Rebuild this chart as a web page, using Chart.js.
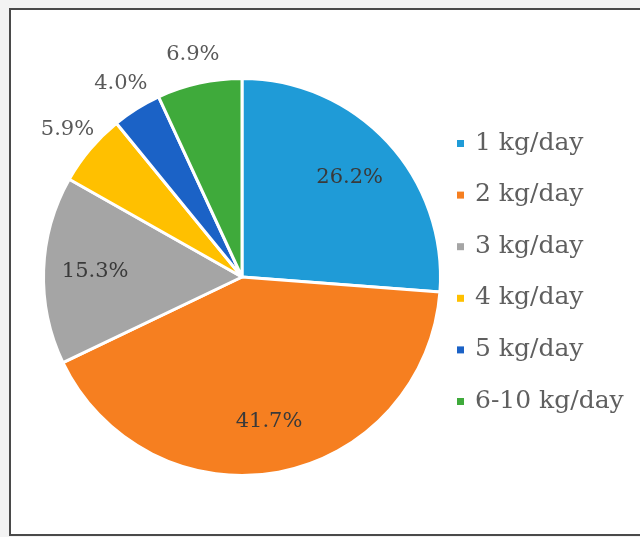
<!DOCTYPE html>
<html>
<head>
<meta charset="utf-8">
<script src="https://cdn.jsdelivr.net/npm/chart.js@4/dist/chart.umd.min.js"></script>
<style>
  html, body { margin: 0; padding: 0; background: #fff; }
  #wrap { width: 640px; height: 537px; }
</style>
</head>
<body>
<div id="wrap"><canvas id="chart" width="640" height="537"></canvas></div>
<script>
// share of households by amount per day
const categories = ['1 kg/day', '2 kg/day', '3 kg/day', '4 kg/day', '5 kg/day', '6-10 kg/day'];
const shares = [26.2, 41.7, 15.3, 5.9, 4.0, 6.9];
const colors = ['#1f9bd7', '#f67f20', '#a5a5a5', '#ffc000', '#1b62c6', '#3faa3b'];

const serif = '"DejaVu Serif", "Liberation Serif", serif';

// frame round the picture
const framePlugin = {
  id: 'frame',
  beforeDraw(chart) {
    const ctx = chart.ctx;
    ctx.save();
    ctx.fillStyle = '#f3f3f3';
    ctx.fillRect(0, 0, chart.width, chart.height);
    ctx.fillStyle = '#ffffff';
    ctx.fillRect(10, 9, chart.width - 10, 526);
    ctx.strokeStyle = '#4a4a4a';
    ctx.lineWidth = 2;
    ctx.strokeRect(10, 9, chart.width + 10, 526);
    ctx.restore();
  }
};

// percentage labels, inside big slices, outside small ones
const labelPlugin = {
  id: 'pctLabels',
  afterDatasetsDraw(chart) {
    const ctx = chart.ctx;
    const meta = chart.getDatasetMeta(0);
    ctx.save();
    ctx.font = '21px ' + serif;
    ctx.textAlign = 'center';
    ctx.textBaseline = 'middle';
    meta.data.forEach((arc, i) => {
      const v = chart.data.datasets[0].data[i];
      const mid = (arc.startAngle + arc.endAngle) / 2;
      const inside = v > 10;
      const r = arc.outerRadius * (inside ? 0.74 : 1.15);
      ctx.fillStyle = inside ? '#3a3a3a' : '#595959';
      ctx.fillText(v.toFixed(1) + '%', arc.x + Math.cos(mid) * r, arc.y + Math.sin(mid) * r);
    });
    ctx.restore();
  }
};

// legend drawn by hand to keep Excel-like spacing
const legendPlugin = {
  id: 'sideLegend',
  afterDraw(chart) {
    const ctx = chart.ctx;
    const ds = chart.data.datasets[0];
    ctx.save();
    ctx.font = '25px ' + serif;
    ctx.textBaseline = 'middle';
    chart.data.labels.forEach((lab, i) => {
      const y = 143 + i * 51.6;
      ctx.fillStyle = ds.backgroundColor[i];
      ctx.fillRect(457, y - 3, 7, 7);
      ctx.fillStyle = '#5f5f5f';
      ctx.fillText(lab, 475, y);
    });
    ctx.restore();
  }
};

new Chart(document.getElementById('chart'), {
  type: 'pie',
  data: {
    labels: categories,
    datasets: [{
      data: shares,
      backgroundColor: colors,
      borderColor: '#ffffff',
      borderWidth: 3
    }]
  },
  options: {
    responsive: false,
    animation: false,
    layout: { padding: { left: 42, right: 198, top: 77, bottom: 60 } },
    plugins: {
      legend: { display: false },
      tooltip: { enabled: false }
    }
  },
  plugins: [framePlugin, labelPlugin, legendPlugin]
});
</script>
</body>
</html>
